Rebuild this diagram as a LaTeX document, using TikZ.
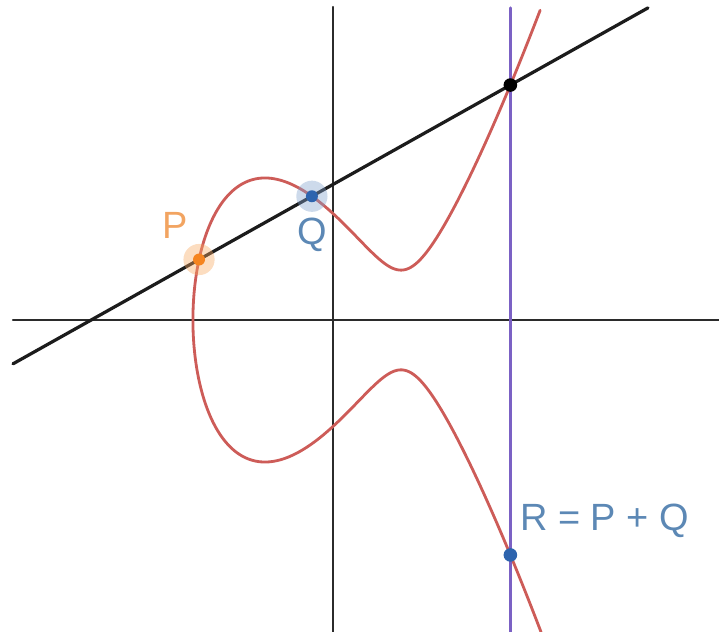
\documentclass[tikz,border=0pt]{standalone}
\usepackage{fontspec}
\setmainfont{Liberation Sans}
\usetikzlibrary{calc,positioning}

\definecolor{axisgray}{HTML}{2B2B2B}
\definecolor{curvered}{HTML}{CD5C58}
\definecolor{chordblack}{HTML}{1C1C1C}
\definecolor{vertpurple}{HTML}{7B61C4}
\definecolor{ptorange}{HTML}{F5841F}
\definecolor{ptblue}{HTML}{2D64AE}
\definecolor{txtorange}{HTML}{F2A461}
\definecolor{txtblue}{HTML}{5C88B5}

\begin{document}
\begin{tikzpicture}[x=1.7cm, y=1.6625cm, line cap=round,
		axisline/.style={draw=axisgray, line width=1.5pt},
		curveline/.style={draw=curvered, line width=2pt},
		chordline/.style={draw=chordblack, line width=2.3pt},
		vertline/.style={draw=vertpurple, line width=2.3pt},
		halo/.style={circle, inner sep=0pt, minimum size=0.78cm, fill opacity=0.4},
		ptdot/.style={circle, inner sep=0pt, minimum size=0.3cm},
		ptlabel/.style={inner sep=0pt, font=\fontsize{27}{32}\selectfont},
		declare function={cx(\t)=-2.06+\t*\t; cy(\t)=\t*sqrt(cx(\t)*cx(\t)-2.06*cx(\t)+1.2436);}]
	\useasboundingbox (-4.8971,-4.6917) rectangle (5.6765,4.8120);
	
	% ==================== AXES ====================
	\draw[axisline] (-4.706,0) -- (5.6765,0);
	\draw[axisline] (0,4.707) -- (0,-4.6917);
	
	% ==================== CURVE: y^2 = x^3 - 3x + 2.56 ====================
	\draw[curveline, domain=-2.263:2.263, samples=241, smooth] plot ({cx(\x)}, {cy(\x)});
	
	% 点坐标
	\coordinate (P) at (-1.97,0.9091);
	\coordinate (Q) at (-0.31,1.8606);
	\coordinate (S) at (2.6085,3.5332);
	\coordinate (R) at (2.6085,-3.5332);
	\coordinate (chordW) at ($(P)!-1.648!(Q)$);
	\coordinate (chordE) at ($(P)!3.977!(Q)$);
	\coordinate (vertN) at (2.6085,4.692);
	\coordinate (vertS) at (2.6085,-4.6917);
	
	% ==================== LINES ====================
	\draw[chordline] (chordW) -- (chordE);
	\draw[vertline] (vertN) -- (vertS);
	
	% ==================== POINTS ====================
	\node[halo, fill=ptorange!70] (Phalo) at (P) {};
	\node[ptdot, fill=ptorange] (Pdot) at (P) {};
	\node[halo, fill=ptblue!60] (Qhalo) at (Q) {};
	\node[ptdot, fill=ptblue] (Qdot) at (Q) {};
	\node[ptdot, fill=black, minimum size=0.34cm] (Sdot) at (S) {};
	\node[ptdot, fill=ptblue, minimum size=0.34cm] (Rdot) at (R) {};
	
	% 标签
	\node[ptlabel, text=txtorange, xshift=-0.6cm, yshift=0.84cm] (Plabel) at (P) {P};
	\node[ptlabel, text=txtblue, yshift=-0.97cm] (Qlabel) at (Q) {Q};
	\node[ptlabel, text=txtblue, anchor=west, xshift=0.24cm, yshift=0.85cm] (Rlabel) at (R) {R = P + Q};
\end{tikzpicture}
\end{document}
